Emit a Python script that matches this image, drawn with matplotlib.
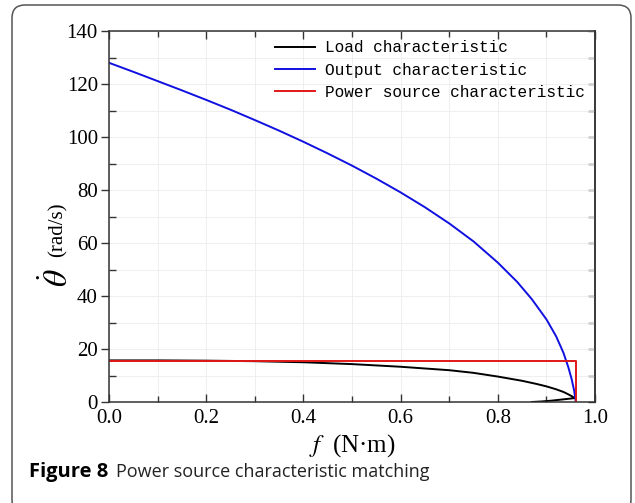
import matplotlib
matplotlib.use("Agg")
import matplotlib.pyplot as plt
from matplotlib.patches import FancyBboxPatch
from matplotlib.ticker import MultipleLocator

plt.rcParams['font.family'] = ['Liberation Serif', 'DejaVu Serif']
plt.rcParams['mathtext.fontset'] = 'stix'

# Output characteristic (blue)
out_f = [0, 0.05, 0.1, 0.15, 0.2, 0.25, 0.3, 0.35, 0.4, 0.45, 0.5, 0.55, 0.6,
         0.65, 0.7, 0.75, 0.8, 0.84, 0.87, 0.9, 0.92, 0.935, 0.945, 0.952, 0.957, 0.96]
out_w = [128, 124.6, 121.1, 117.6, 114, 110.3, 106.4, 102.4, 98.2, 93.8, 89.2, 84.3, 79.1,
         73.5, 67.4, 60.6, 52.6, 45.3, 38.8, 31.2, 24.8, 18.6, 13.2, 8.6, 4.4, 0.5]

# Load characteristic (black), upper branch then lower branch back
load_f = [0, 0.1, 0.2, 0.3, 0.4, 0.5, 0.6, 0.7, 0.75, 0.8, 0.85, 0.88, 0.9, 0.92,
          0.935, 0.945, 0.952, 0.958, 0.95, 0.93, 0.91, 0.89, 0.87]
load_w = [15.7, 15.7, 15.6, 15.4, 15.0, 14.3, 13.3, 12.0, 11.0, 9.6, 8.0, 6.8, 5.9, 4.8,
          3.8, 2.9, 2.2, 1.5, 1.3, 0.9, 0.5, 0.2, 0.0]

# Power source characteristic (red)
src_f = [0, 0.96, 0.96]
src_w = [15.6, 15.6, 0]

W, H = 635, 503
fig = plt.figure(figsize=(W / 100, H / 100), dpi=100)

# rounded frame around everything
frame = FancyBboxPatch((0.12, -0.1), 6.19, 5.08, boxstyle="round,pad=0,rounding_size=0.13",
                       transform=fig.dpi_scale_trans, fill=False, edgecolor='#555555', lw=1.1)
fig.patches.append(frame)

ax = fig.add_axes([109 / W, 1 - 402 / H, 486 / W, 371 / H])

ax.plot(load_f, load_w, color='black', lw=1.4, label='Load characteristic')
ax.plot(out_f, out_w, color='#1010e0', lw=1.4, label='Output characteristic')
ax.plot(src_f, src_w, color='#e01818', lw=1.4, label='Power source characteristic')

ax.set_xlim(0, 1.0)
ax.set_ylim(0, 140)
ax.xaxis.set_major_locator(MultipleLocator(0.2))
ax.xaxis.set_minor_locator(MultipleLocator(0.1))
ax.yaxis.set_major_locator(MultipleLocator(20))
ax.yaxis.set_minor_locator(MultipleLocator(10))
ax.xaxis.set_major_formatter(matplotlib.ticker.FormatStrFormatter('%.1f'))

ax.grid(which='both', color='#ececec', lw=0.6)
ax.set_axisbelow(True)

# x ticks point inward on bottom and top
ax.tick_params(axis='x', which='major', direction='in', length=6, width=1, labelsize=15,
               pad=5, top=True, color='#333333')
ax.tick_params(axis='x', which='minor', direction='in', length=4, width=1, top=True,
               color='#333333')
ax.tick_params(axis='y', which='major', direction='out', length=6, width=1, labelsize=15,
               pad=2, color='#333333')
ax.tick_params(axis='y', which='minor', direction='in', length=5, width=1, color='#333333')
for s in ax.spines.values():
    s.set_linewidth(1.1)
    s.set_color('#333333')

right = ax.secondary_yaxis('right')
right.yaxis.set_major_locator(MultipleLocator(20))
right.yaxis.set_minor_locator(MultipleLocator(10))
right.tick_params(which='both', direction='in', labelright=False, length=5, width=1, color='#333333')
right.spines['right'].set_color('#333333')
right.spines['right'].set_linewidth(1.1)

ax.set_xlabel(r'$f$  (N·m)', fontsize=18, labelpad=3)

# y label: big theta-dot plus units
ax.text(-0.105, 0.335, r'$\dot{\theta}$', rotation=90, fontsize=24, transform=ax.transAxes,
        ha='center', va='center')
ax.text(-0.105, 0.465, '(rad/s)', rotation=90, fontsize=15, transform=ax.transAxes,
        ha='center', va='center')

ax.legend(loc='upper left', bbox_to_anchor=(0.342, 0.975), frameon=False,
          prop={'family': 'Liberation Mono', 'size': 11.6}, handlelength=2.5,
          handletextpad=0.6, labelspacing=0.45, borderpad=0, borderaxespad=0)

fig.text(29 / W, 1 - 472 / H, 'Figure 8', family='Open Sans', weight='bold', fontsize=14.5,
         va='center', ha='left')
fig.text(116 / W, 1 - 472 / H, 'Power source characteristic matching', family='Open Sans',
         fontsize=13, va='center', ha='left', color='#222222')

fig.savefig('out.png', dpi=100)
